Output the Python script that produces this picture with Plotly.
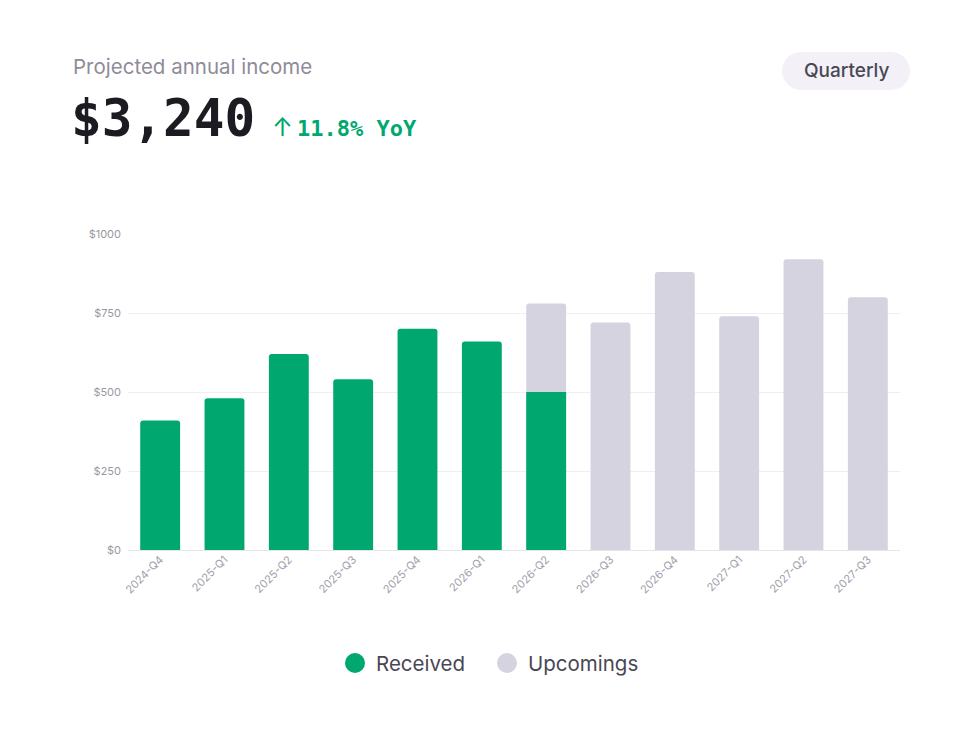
import plotly.graph_objects as go

# quarterly income data
quarters = ["2024-Q4", "2025-Q1", "2025-Q2", "2025-Q3", "2025-Q4", "2026-Q1",
            "2026-Q2", "2026-Q3", "2026-Q4", "2027-Q1", "2027-Q2", "2027-Q3"]
received = [410, 480, 620, 540, 700, 660, 500, None, None, None, None, None]
upcoming_total = [None, None, None, None, None, None, 780, 720, 880, 740, 920, 800]
y_ticks = [0, 250, 500, 750, 1000]
y_tick_labels = ["$0", "$250", "$500", "$750", "$1000"]
series_names = ["Received", "Upcomings"]

GREEN = "#00a870"
GREY = "#d5d3df"
TEXT = "#4a4754"
MUTED = "#8f8b99"

W, H = 980, 730
L, R, T, B = 128, 80, 234, 180
PW, PH = W - L - R, H - T - B


# pixel -> paper helpers
def px(x):
    return (x - L) / PW


def py(y):
    return (H - B - y) / PH


def pill(x0, y0, x1, y1):
    r = (y1 - y0) / 2
    k = 0.5523 * r
    pts = [
        ("M", [(x0 + r, y1)]),
        ("L", [(x1 - r, y1)]),
        ("C", [(x1 - r + k, y1), (x1, y1 - r + k), (x1, y1 - r)]),
        ("C", [(x1, y0 + r - k), (x1 - r + k, y0), (x1 - r, y0)]),
        ("L", [(x0 + r, y0)]),
        ("C", [(x0 + r - k, y0), (x0, y0 + r - k), (x0, y0 + r)]),
        ("C", [(x0, y1 - r + k), (x0 + r - k, y1), (x0 + r, y1)]),
    ]
    s = ""
    for cmd, ps in pts:
        s += cmd + " " + " ".join("%.5f,%.5f" % (px(a), py(b)) for a, b in ps) + " "
    return s + "Z"


fig = go.Figure()

fig.add_trace(go.Bar(x=quarters, y=upcoming_total, name=series_names[1],
                     marker=dict(color=GREY, cornerradius=3, line=dict(width=0)),
                     showlegend=False, hoverinfo="x+y"))
fig.add_trace(go.Bar(x=quarters, y=received, name=series_names[0],
                     marker=dict(color=GREEN, cornerradius=3, line=dict(width=0)),
                     showlegend=False, hoverinfo="x+y"))

shapes = [dict(type="path", xref="paper", yref="paper", path=pill(782, 52, 910, 90),
               fillcolor="#f3f1f7", line=dict(width=0), layer="below")]

annotations = [
    dict(text="Projected annual income", x=px(71), y=py(66), xanchor="left", yanchor="middle",
         font=dict(family="Inter", size=20.5, color=MUTED)),
    dict(text="<b>$3,240</b>", x=px(69), y=py(118), xanchor="left", yanchor="middle",
         font=dict(family="DejaVu Sans Mono", size=51, color="#1c1b22")),
    dict(text="↑", x=px(270), y=py(127), xanchor="left", yanchor="middle",
         font=dict(family="Inter", size=25, color=GREEN)),
    dict(text="<b>11.8% YoY</b>", x=px(295), y=py(128), xanchor="left", yanchor="middle",
         font=dict(family="DejaVu Sans Mono", size=22, color=GREEN)),
    dict(text="Quarterly", x=px(846), y=py(71), xanchor="center", yanchor="middle",
         font=dict(family="Inter", size=19, color=TEXT, weight=500)),
]

# legend drawn by hand so the dots can be larger
legend_items = [(355, GREEN, series_names[0]), (507, GREY, series_names[1])]
for cx, col, label in legend_items:
    shapes.append(dict(type="circle", xref="paper", yref="paper",
                       x0=px(cx - 10), x1=px(cx + 10), y0=py(663 + 10), y1=py(663 - 10),
                       fillcolor=col, line=dict(width=0)))
    annotations.append(dict(text=label, x=px(cx + 19), y=py(663), xanchor="left", yanchor="middle",
                            font=dict(family="Inter", size=20.5, color=TEXT)))

for a in annotations:
    a.update(xref="paper", yref="paper", showarrow=False)

fig.update_layout(
    width=W, height=H,
    margin=dict(l=L, r=R, t=T, b=B),
    paper_bgcolor="white", plot_bgcolor="white",
    barmode="overlay", bargap=0.38,
    font=dict(family="Inter", color="#9a97a3"),
    shapes=shapes, annotations=annotations,
    showlegend=False,
)
fig.update_xaxes(tickangle=-45, tickfont=dict(size=11, color="#a3a0ab"),
                 showgrid=False, showline=False, ticks="")
fig.update_yaxes(range=[0, 1000], tickmode="array", tickvals=y_ticks, ticktext=y_tick_labels,
                 tickfont=dict(size=11, color="#9a97a3"),
                 gridcolor="#efeef3", gridwidth=1, zeroline=True, zerolinecolor="#e6e5ec",
                 zerolinewidth=1, showline=False, ticks="", ticklabelstandoff=6)

# page margin off so the figure sits at the window's top-left corner
fig.write_html("out.html", config={"displayModeBar": False},
               post_script="document.body.style.margin='0';")
